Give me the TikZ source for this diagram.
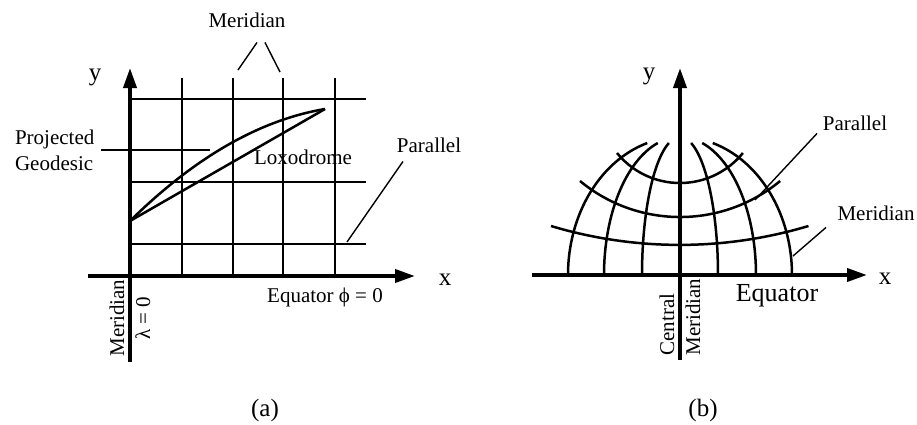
\documentclass[tikz,border=0pt]{standalone}
\usepackage{fontspec}
\setmainfont{Liberation Serif}
\usetikzlibrary{arrows.meta}

\begin{document}
\begin{tikzpicture}[x=0.5pt, y=-0.5pt, font=\fontsize{10.5}{13}\selectfont,
    axis/.style={line width=1.9pt, -{Triangle[length=10pt, width=6.5pt]}},
    gridline/.style={line width=1.1pt},
    curve/.style={line width=1.25pt},
    leader/.style={line width=0.7pt},
    big/.style={font=\fontsize{12.5}{15}\selectfont}]

  \useasboundingbox (0,0) rectangle (917,424);

  % (a) Mercator-like grid
  \foreach \mx in {182,233,283,335}
    \draw[gridline] (\mx,78) -- (\mx,276);
  \foreach \py in {99,182,244}
    \draw[gridline] (130,\py) -- (366,\py);

  % Loxodrome and projected geodesic
  \coordinate (start) at (130,221);
  \coordinate (stop) at (325,109);
  \draw[curve] (start) -- (stop);
  \draw[curve] (start) .. controls (195,157) and (260,120) .. (stop);

  % Axes
  \draw[axis] (88,276) -- (415,276);
  \draw[axis] (130,362) -- (130,68);
  \node[big] (ya) at (95,77) {y};
  \node[big] (xa) at (445,280) {x};

  % Labels
  \node (merA) at (247,20) {Meridian};
  \coordinate (merA1) at (238,70);
  \coordinate (merA2) at (280,72);
  \draw[leader] ([xshift=5pt,yshift=-4pt]merA.south) -- (merA1);
  \draw[leader] ([xshift=9pt,yshift=-4pt]merA.south) -- (merA2);

  \node[align=left, anchor=west] (geo) at (8,150) {Projected\\Geodesic};
  \coordinate (geo1) at (210,150);
  \draw[leader] (geo.east) -- (geo1);

  \node (lox) at (303,157) {Loxodrome};

  \node (parA) at (429,145) {Parallel};
  \coordinate (parA1) at (347,242);
  \draw[leader] ([xshift=-13pt,yshift=-1pt]parA.south) -- (parA1);

  \node (eqA) at (325,297) {Equator ϕ = 0};
  \node[rotate=90, align=center] (merL) at (130,318) {Meridian\\λ = 0};

  \node[big] (capA) at (265,410) {(a)};

  % (b) converging meridians
  \foreach \mx in {-112,-76,-38,38,76,112}
    \draw[curve] plot[domain=0:73, samples=40, smooth] ({680+\mx*cos(\x)}, {275-138*sin(\x)});
  % Parallels
  \draw[curve] (617,153) arc[start angle=141, end angle=39, radius=81];
  \draw[curve] (580,181) arc[start angle=129.6, end angle=50.4, radius=157];
  \draw[curve] (551,226) arc[start angle=106.7, end angle=73.3, radius=448];

  % Axes
  \draw[axis] (532,275) -- (867,275);
  \draw[axis] (680,360) -- (680,68);
  \node[big] (yb) at (649,76) {y};
  \node[big] (xb) at (885,279) {x};

  % Labels
  \node (parB) at (855,123) {Parallel};
  \coordinate (parB1) at (755,200);
  \draw[leader] ([xshift=-19pt,yshift=2pt]parB.south) -- (parB1);

  \node (merB) at (876,213) {Meridian};
  \coordinate (merB1) at (793,256);
  \draw[leader] ([xshift=-25pt,yshift=0pt]merB.south) -- (merB1);

  \node[font=\fontsize{13}{15}\selectfont] (eqB) at (777,296) {Equator};
  \node[rotate=90, align=left] (merC) at (680,317) {Central\\Meridian};

  \node[big] (capB) at (703,410) {(b)};

\end{tikzpicture}
\end{document}
